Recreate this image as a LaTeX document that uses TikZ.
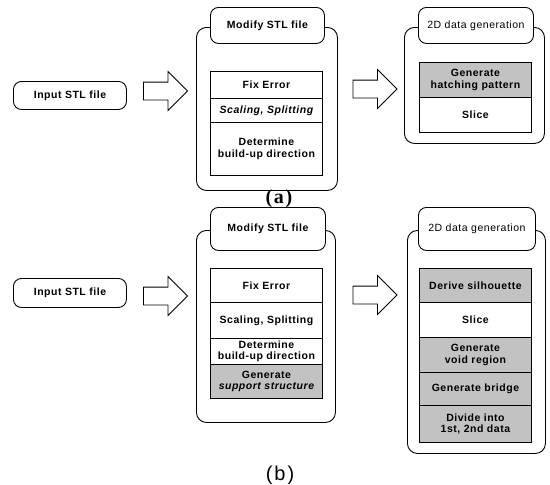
\documentclass[tikz,border=0pt]{standalone}
\usepackage{fontspec}
\setmainfont[LetterSpace=5]{Liberation Sans}
\newfontfamily\labserif[LetterSpace=8]{Liberation Serif}
\newfontfamily\labsans[LetterSpace=10]{Liberation Sans}
\usetikzlibrary{shapes.arrows}
\begin{document}
\begin{tikzpicture}[x=1pt,y=-1pt,
  lw/.style={line width=0.9pt},
  txt/.style={font=\fontsize{10.5}{11.5}\selectfont\bfseries},
  rbox/.style={lw, draw, fill=white, rounded corners=8pt, anchor=north west, inner sep=0pt, align=center, txt},
  frame/.style={lw, draw, rounded corners=10pt, anchor=north west, inner sep=0pt},
  row/.style={lw, draw, fill=white, anchor=north west, inner sep=0pt, align=center, minimum width=112pt, txt},
  shaded/.style={fill=black!24},
  blockarrow/.style={draw, line width=0.8pt, single arrow, inner xsep=0pt, inner ysep=8.5pt,
     single arrow head extend=10.5pt, minimum height=44pt, anchor=center}
]
\useasboundingbox (0,0) rectangle (550,485);

% ---------------- (a) ----------------
\node[rbox, minimum width=113pt, minimum height=28pt] (inA) at (13,81) {Input STL file};
\node[blockarrow] (arA1) at (161,91) {};

\node[frame, minimum width=141pt, minimum height=163pt] (frA) at (196,27) {};
\node[rbox, minimum width=114pt, minimum height=36pt] (tA) at (210,7) {Modify STL file};
\node[row, minimum height=27pt] (a1) at (210,71) {Fix Error};
\node[row, minimum height=24pt] (a2) at (210,98) {\itshape Scaling, Splitting};
\node[row, minimum height=53pt] (a3) at (210,122) {Determine\\build-up direction};

\node[blockarrow] (arA2) at (370.5,89) {};

\node[frame, minimum width=140pt, minimum height=116pt] (gA) at (404,27) {};
\node[rbox, minimum width=115pt, minimum height=36pt] (tgA) at (418,7) {\mdseries 2D data generation};
\node[row, shaded, minimum height=35pt] (g1) at (419,62) {Generate\\hatching pattern};
\node[row, minimum height=35pt] (g2) at (419,97) {Slice};

\node[font=\labserif\bfseries\fontsize{20}{22}\selectfont] (labA) at (279,199) {(a)};

% ---------------- (b) ----------------
\node[rbox, minimum width=113pt, minimum height=29pt] (inB) at (13,278) {Input STL file};
\node[blockarrow] (arB1) at (161,296) {};

\node[frame, minimum width=139pt, minimum height=192pt] (frB) at (196,230) {};
\node[rbox, minimum width=115pt, minimum height=43pt] (tB) at (210,207) {Modify STL file};
\node[row, minimum height=34pt] (b1) at (210,268) {Fix Error};
\node[row, minimum height=36pt] (b2) at (210,302) {Scaling, Splitting};
\node[row, minimum height=26pt] (b3) at (210,338) {Determine\\build-up direction};
\node[row, shaded, minimum height=34pt] (b4) at (210,364) {Generate\\\itshape support structure};

\node[blockarrow] (arB2) at (370.5,295) {};

\node[frame, minimum width=138pt, minimum height=223pt] (gB) at (407,230) {};
\node[rbox, minimum width=117pt, minimum height=43pt] (tgB) at (418,207) {\mdseries 2D data generation};
\node[row, shaded, minimum height=34pt] (h1) at (419,268) {Derive silhouette};
\node[row, minimum height=35pt] (h2) at (419,302) {Slice};
\node[row, shaded, minimum height=35pt] (h3) at (419,337) {Generate\\void region};
\node[row, shaded, minimum height=33pt] (h4) at (419,372) {Generate bridge};
\node[row, shaded, minimum height=37pt] (h5) at (419,405) {Divide into\\1st, 2nd data};

\node[font=\labsans\fontsize{20}{22}\selectfont] (labB) at (280,475) {(b)};
\end{tikzpicture}
\end{document}
